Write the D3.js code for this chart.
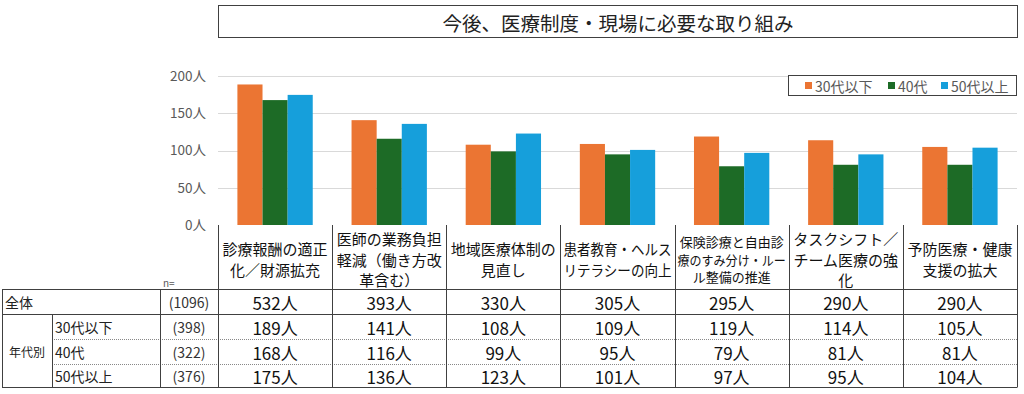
<!DOCTYPE html>
<html lang="ja">
<head>
<meta charset="UTF-8">
<title>今後、医療制度・現場に必要な取り組み</title>
<style>
  * { box-sizing: border-box; }
  body { margin: 0; background: #fff; font-family: 'Noto Sans CJK JP', 'Noto Sans', sans-serif; }
  svg text { font-family: 'Noto Sans CJK JP', 'Noto Sans', sans-serif; }
</style>
</head>
<body>
<svg id="chart" width="1024" height="394"></svg>
<script src="https://cdn.jsdelivr.net/npm/d3@7"></script>
<script>
// data
var title      = '今後、医療制度・現場に必要な取り組み';
var categories = [
  ['診療報酬の適正', '化／財源拡充'],
  ['医師の業務負担', '軽減（働き方改', '革含む）'],
  ['地域医療体制の', '見直し'],
  ['患者教育・ヘルス', 'リテラシーの向上'],
  ['保険診療と自由診', '療のすみ分け・ルー', 'ル整備の推進'],
  ['タスクシフト／', 'チーム医療の強', '化'],
  ['予防医療・健康', '支援の拡大']
];
var seriesNames = ['30代以下', '40代', '50代以上'];
var seriesN     = ['(398)', '(322)', '(376)'];
var s30         = [189, 141, 108, 109, 119, 114, 105];
var s40         = [168, 116, 99, 95, 79, 81, 81];
var s50         = [175, 136, 123, 101, 97, 95, 104];
var totalN      = '(1096)';
var totals      = [532, 393, 330, 305, 295, 290, 290];
var yTicks      = [0, 50, 100, 150, 200];
var colors      = ['#EB7533', '#1D6B26', '#169FDB'];

var series = [s30, s40, s50];

var svg = d3.select('#chart');

// geometry
var left = 218, right = 1017;
var y0 = 225, yTop = 76.3;

var x = d3.scaleBand().domain(d3.range(categories.length)).range([left, right]).padding(0);
var bw = x.bandwidth();
var x1 = d3.scaleBand().domain(d3.range(series.length)).range([bw * 0.17, bw * 0.83]).padding(0);
var y = d3.scaleLinear().domain([0, 200]).range([y0, yTop]);

// title box
svg.append('rect').attr('x', 218.5).attr('y', 5.5).attr('width', 799).attr('height', 32)
  .attr('fill', '#fff').attr('stroke', '#404040').attr('stroke-width', 1);
svg.append('text').attr('x', 618).attr('y', 22).attr('text-anchor', 'middle')
  .attr('dominant-baseline', 'central').attr('font-size', 19.5).attr('fill', '#222').text(title);

// gridlines
svg.append('g').selectAll('line').data(yTicks.filter(function (d) { return d > 0; })).join('line')
  .attr('x1', left).attr('x2', right)
  .attr('y1', function (d) { return Math.round(y(d)) + 0.5; })
  .attr('y2', function (d) { return Math.round(y(d)) + 0.5; })
  .attr('stroke', '#d9d9d9').attr('stroke-width', 1);

// y axis labels
var yAxis = d3.axisLeft(y).tickValues(yTicks).tickSize(0).tickPadding(0)
  .tickFormat(function (d) { return d + '人'; });
var ya = svg.append('g').attr('transform', 'translate(206,0)').call(yAxis);
ya.select('.domain').remove();
ya.selectAll('text').attr('font-size', 13.5).attr('fill', '#595959')
  .attr('font-family', "'Noto Sans CJK JP', sans-serif");

// bars
var groups = svg.append('g').selectAll('g').data(categories).join('g')
  .attr('transform', function (d, i) { return 'translate(' + x(i) + ',0)'; });
groups.selectAll('rect').data(function (d, i) { return series.map(function (s) { return s[i]; }); })
  .join('rect')
  .attr('x', function (d, j) { return x1(j); })
  .attr('width', x1.bandwidth())
  .attr('y', function (d) { return y(d); })
  .attr('height', function (d) { return y0 - y(d); })
  .attr('fill', function (d, j) { return colors[j]; });

// legend
var lg = svg.append('g');
lg.append('rect').attr('x', 788.5).attr('y', 75.5).attr('width', 228).attr('height', 20)
  .attr('fill', '#fff').attr('stroke', '#404040');
var legendX = [805, 888, 941];
seriesNames.forEach(function (name, j) {
  lg.append('rect').attr('x', legendX[j]).attr('y', 82).attr('width', 7).attr('height', 7).attr('fill', colors[j]);
  lg.append('text').attr('x', legendX[j] + 10).attr('y', 86).attr('dominant-baseline', 'central')
    .attr('font-size', 14).attr('fill', '#595959').text(name);
});

// table
var rowY = [289, 314, 339, 364, 387];
var tbl = svg.append('g');
var line = function (x1_, y1_, x2_, y2_, dash, col) {
  tbl.append('line').attr('x1', x1_).attr('y1', y1_).attr('x2', x2_).attr('y2', y2_)
    .attr('stroke', col || '#404040').attr('stroke-width', 1)
    .attr('stroke-dasharray', dash || null);
};
// horizontal lines
line(2, rowY[0] + 0.5, right + 0.5, rowY[0] + 0.5);
line(2, rowY[1] + 0.5, right + 0.5, rowY[1] + 0.5);
line(52, rowY[2] + 0.5, right, rowY[2] + 0.5, '1,1', '#888');
line(52, rowY[3] + 0.5, right, rowY[3] + 0.5, '1,1', '#888');
line(2, rowY[4] + 0.5, right + 0.5, rowY[4] + 0.5);
// vertical lines
line(2.5, rowY[0], 2.5, rowY[4]);
line(52.5, rowY[1], 52.5, rowY[4]);
line(160.5, rowY[0], 160.5, rowY[4]);
d3.range(categories.length + 1).forEach(function (i) {
  var xx = Math.round(left + i * bw) + 0.5;
  line(xx, y0, xx, rowY[4]);
});

// category header labels
categories.forEach(function (lines, i) {
  var maxLen = d3.max(lines, function (s) { return s.length; });
  var fs = maxLen >= 9 ? 13 : 15;
  var lh = fs * 1.37;
  var cy = 259;
  var cx = x(i) + bw / 2;
  lines.forEach(function (s, k) {
    var t = tbl.append('text').attr('x', cx)
      .attr('y', cy + (k - (lines.length - 1) / 2) * lh)
      .attr('text-anchor', 'middle').attr('dominant-baseline', 'central')
      .attr('font-size', fs).attr('fill', '#111').text(s);
    if (t.node().getComputedTextLength() > bw - 6) {
      t.attr('textLength', bw - 6).attr('lengthAdjust', 'spacingAndGlyphs');
    }
  });
});

// n= label
tbl.append('text').attr('x', 163).attr('y', 282).attr('dominant-baseline', 'central')
  .attr('font-size', 10).attr('fill', '#595959').text('n=');

// row labels
var mid = function (r) { return (rowY[r] + rowY[r + 1]) / 2 + 0.5; };
tbl.append('text').attr('x', 5).attr('y', mid(0)).attr('dominant-baseline', 'central')
  .attr('font-size', 14).attr('fill', '#222').text('全体');
tbl.append('text').attr('x', 27).attr('y', (rowY[1] + rowY[4]) / 2 + 1).attr('text-anchor', 'middle')
  .attr('dominant-baseline', 'central').attr('font-size', 12).attr('fill', '#222').text('年代別');
seriesNames.forEach(function (name, j) {
  tbl.append('text').attr('x', 55).attr('y', mid(j + 1)).attr('dominant-baseline', 'central')
    .attr('font-size', 14).attr('fill', '#222').text(name);
});
[totalN].concat(seriesN).forEach(function (n, r) {
  tbl.append('text').attr('x', 189).attr('y', mid(r)).attr('text-anchor', 'middle')
    .attr('dominant-baseline', 'central').attr('font-size', 14).attr('fill', '#333').text(n);
});

// values
[totals].concat(series).forEach(function (vals, r) {
  vals.forEach(function (v, i) {
    tbl.append('text').attr('x', x(i) + bw / 2).attr('y', mid(r)).attr('text-anchor', 'middle')
      .attr('dominant-baseline', 'central').attr('font-size', 17).attr('fill', '#111').text(v + '人');
  });
});
</script>
</body>
</html>
